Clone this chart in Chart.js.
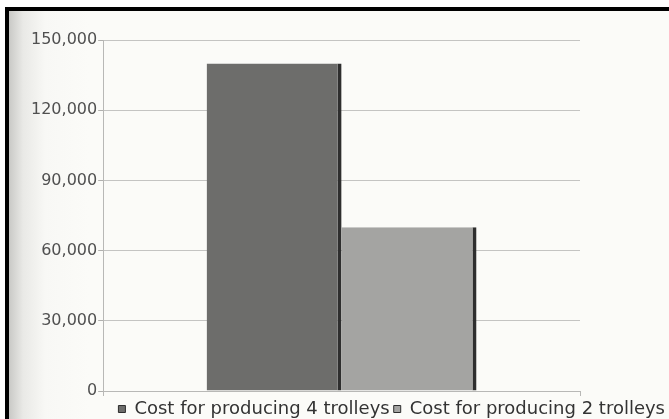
<!DOCTYPE html>
<html>
<head>
<meta charset="utf-8">
<script src="https://cdn.jsdelivr.net/npm/chart.js@4"></script>
<style>
  html, body { margin: 0; padding: 0; background: #ffffff; }
  #frame {
    position: absolute; left: 5px; top: 7px;
    width: 660px; height: 408px;
    border-left: 4px solid #000; border-top: 4px solid #000;
    background: linear-gradient(to right, #c9c9c6 0px, #e9e9e6 14px, #f8f8f5 36px, #fbfbf8 80px);
  }
  #wrap { position: absolute; left: 0; top: 0; width: 660px; height: 408px; }
</style>
</head>
<body>
<div id="frame"><div id="wrap"><canvas id="costChart"></canvas></div></div>
<script>
const categories = ["Cost"]
const seriesNames = ["Cost for producing 4 trolleys", "Cost for producing 2 trolleys"]
const fourTrolleys = [140000]
const twoTrolleys = [70000]
const yTicks = [0, 30000, 60000, 90000, 120000, 150000]

const ctx = document.getElementById('costChart')
new Chart(ctx, {
  type: 'bar',
  data: {
    labels: categories,
    datasets: [{
      label: seriesNames[0],
      data: fourTrolleys,
      backgroundColor: '#6d6d6b',
      borderColor: '#2e2e2e',
      borderWidth: { top: 0, left: 0, bottom: 0, right: 4 },
      borderSkipped: false
    }, {
      label: seriesNames[1],
      data: twoTrolleys,
      backgroundColor: '#a4a4a2',
      borderColor: '#2e2e2e',
      borderWidth: { top: 0, left: 0, bottom: 0, right: 4 },
      borderSkipped: false
    }]
  },
  options: {
    responsive: true,
    maintainAspectRatio: false,
    animation: false,
    layout: { padding: { top: 29, left: 21, right: 0, bottom: -9 } },
    datasets: { bar: { categoryPercentage: 0.566, barPercentage: 1.0 } },
    plugins: {
      tooltip: { enabled: false },
      legend: {
        position: 'bottom',
        align: 'end',
        labels: {
          boxWidth: 7, boxHeight: 7,
          padding: 4,
          color: '#333333',
          font: { family: 'DejaVu Sans', size: 18 }
        }
      }
    },
    scales: {
      x: {
        grid: { display: true, drawOnChartArea: false, tickLength: 5, color: '#b8b8b6' },
        border: { color: '#b8b8b6', width: 1 },
        ticks: { display: false }
      },
      y: {
        min: 0,
        max: 150000,
        afterBuildTicks: (axis) => { axis.ticks = yTicks.map(v => ({ value: v })) },
        grid: { color: '#c4c4c2', tickLength: 5, tickColor: '#b0b0ae' },
        border: { color: '#b8b8b6' },
        ticks: {
          color: '#505050',
          padding: 1,
          font: { family: 'DejaVu Sans', size: 16 },
          callback: (v) => v.toLocaleString('en-US')
        }
      },
      yPad: {
        position: 'right',
        display: true,
        grid: { display: false },
        border: { display: false },
        ticks: { display: false },
        afterFit: (axis) => { axis.width = 89 }
      }
    }
  }
})
</script>
</body>
</html>
